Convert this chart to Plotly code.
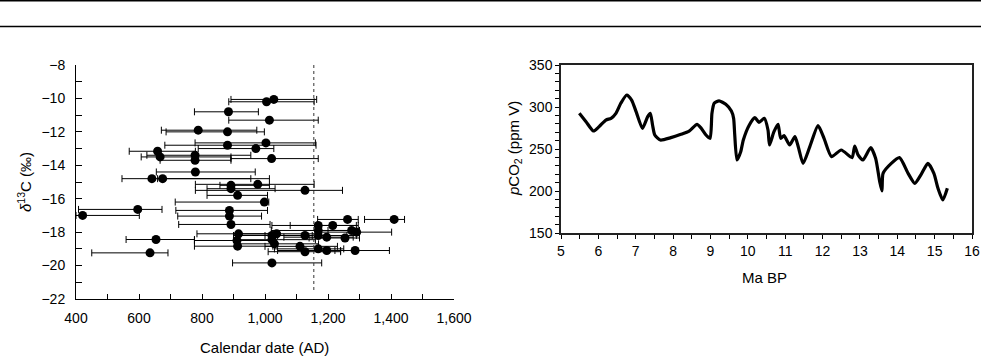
import plotly.graph_objects as go

# ---------------- Left panel: d13C vs calendar date ----------------
date_ad = [1028, 1005, 884, 1014, 788, 881, 881, 1003, 971, 659, 667, 778, 778, 1021,
           779, 641, 675, 892, 977, 892, 1127, 913, 998, 596, 421, 887, 887, 892,
           916, 654, 911, 913, 635, 1022,
           1262, 1410, 1169, 1215, 1169, 1275, 1291, 1037, 1022, 1127, 1169, 1196,
           1254, 1022, 1111, 1127, 1169, 1196, 1286, 1030]
d13c = [-10.06, -10.2, -10.8, -11.3, -11.9, -12.0, -12.8, -12.66, -13.0, -13.16, -13.5, -13.4, -13.7, -13.6,
        -14.4, -14.8, -14.8, -15.2, -15.14, -15.4, -15.5, -15.8, -16.2, -16.64, -17.0, -16.7, -17.04, -17.54,
        -18.1, -18.44, -18.5, -18.84, -19.24, -19.84,
        -17.24, -17.24, -17.6, -17.6, -17.9, -17.9, -18.0, -18.1, -18.2, -18.2, -18.2, -18.3,
        -18.35, -18.45, -18.85, -19.17, -19.0, -19.1, -19.1, -18.7]
date_low = [892, 885, 776, 885, 671, 686, 682, 778, 788, 569, 607, 625, 667, 892,
            655, 546, 659, 857, 779, 816, 779, 816, 715, 408, 400, 717, 723, 726,
            784, 559, 776, 776, 450, 897,
            1167, 1316, 1022, 1080, 1020, 1200, 1170, 920, 900, 1000, 1040, 1060,
            1140, 900, 1000, 1010, 1030, 1040, 1222, 905]
date_high = [1164, 1156, 979, 1169, 974, 998, 1162, 1160, 1028, 779, 892, 955, 892, 1169,
             969, 955, 1014, 1014, 1156, 1032, 1246, 1008, 1012, 673, 601, 1008, 989, 1016,
             1022, 776, 1020, 1025, 692, 1180,
             1296, 1443, 1296, 1290, 1290, 1300, 1402, 1170, 1150, 1260, 1290, 1280,
             1300, 1160, 1230, 1240, 1250, 1240, 1395, 1170]
ref_date = 1155
ref_top, ref_bottom = -8.0, -21.5

# ---------------- Right panel: pCO2 vs Ma BP ----------------
ma_bp = [5.49, 5.67, 5.87, 6.02, 6.20, 6.34, 6.47, 6.60, 6.76, 6.89, 7.01, 7.18, 7.32, 7.39,
         7.45, 7.51, 7.66, 7.94, 8.21, 8.43, 8.64, 8.74, 8.88, 8.99, 9.04, 9.10, 9.23, 9.41,
         9.56, 9.62, 9.65, 9.71, 9.81, 9.88, 10.04, 10.19, 10.30, 10.44, 10.54, 10.58,
         10.70, 10.81, 10.88, 10.97, 11.12, 11.26, 11.35, 11.48, 11.66, 11.88, 12.04,
         12.24, 12.50, 12.79, 12.86, 12.95, 13.08, 13.29, 13.42, 13.53, 13.59, 13.62,
         13.84, 14.06, 14.29, 14.47, 14.64, 14.82, 14.98, 15.09, 15.22, 15.34]
pco2 = [292.5, 282.5, 271.4, 276.6, 284.5, 286.5, 292.5, 304.4, 314.3, 308.3, 294.5, 274.6, 288.5, 292.5,
        278.6, 266.7, 260.7, 263.5, 267.5, 271.4, 279.4, 275.4, 266.7, 262.7, 292.5, 304.4, 307.2, 303.2,
        295.2, 286.5, 266.7, 236.9, 246.8, 260.7, 278.6, 287.3, 281.8, 286.5, 272.6, 254.8,
        270.6, 279.4, 262.7, 265.9, 254.8, 264.7, 252.8, 232.9, 252.8, 277.8, 262.7,
        240.9, 248.8, 239.7, 253.6, 242.9, 236.9, 251.6, 238.9, 211.1, 200.0, 221.0,
        232.9, 239.7, 221.0, 209.1, 219.8, 232.9, 221.0, 203.2, 189.3, 203.2]

FONT = "Liberation Sans, Arial, Helvetica, sans-serif"
W, H = 981, 357

fig = go.Figure()

fig.add_trace(go.Scatter(
    x=date_ad, y=d13c, mode="markers",
    marker=dict(size=9, color="black"),
    error_x=dict(type="data", symmetric=False,
                 array=[h - x for h, x in zip(date_high, date_ad)],
                 arrayminus=[x - l for l, x in zip(date_low, date_ad)],
                 color="black", thickness=1, width=3.5),
    xaxis="x", yaxis="y", showlegend=False, hoverinfo="skip"))

fig.add_trace(go.Scatter(
    x=[ref_date, ref_date], y=[ref_top, ref_bottom], mode="lines",
    line=dict(color="#333", width=1, dash="dot"),
    xaxis="x", yaxis="y", showlegend=False, hoverinfo="skip"))

fig.add_trace(go.Scatter(
    x=ma_bp, y=pco2, mode="lines",
    line=dict(color="black", width=3.2, shape="spline", smoothing=0.6),
    xaxis="x2", yaxis="y2", showlegend=False, hoverinfo="skip"))

def px_x(p):
    return p / W

def px_y(p):
    return 1 - p / H

tickfont = dict(family=FONT, size=14, color="black")
titlefont = dict(family=FONT, size=15, color="black")

fig.update_layout(
    width=W, height=H,
    margin=dict(l=0, r=0, t=0, b=0),
    paper_bgcolor="white", plot_bgcolor="white",
    font=dict(family=FONT, size=14, color="black"),
    xaxis=dict(domain=[px_x(76), px_x(454)], range=[400, 1600], anchor="y",
               showgrid=False, zeroline=False, showline=True, linecolor="black", linewidth=1,
               ticks="inside", ticklen=5, tickcolor="black", dtick=200, tick0=400,
               tickformat=",d", tickfont=tickfont, ticklabelstandoff=6,
               minor=dict(dtick=100, ticks="inside", ticklen=5, tickcolor="black"),
               automargin=False),
    yaxis=dict(domain=[px_y(299), px_y(65)], range=[-22, -8], anchor="x",
               showgrid=False, zeroline=False, showline=True, linecolor="black", linewidth=1,
               ticks="inside", ticklen=6, tickcolor="black", dtick=2, tick0=-8,
               tickfont=tickfont, ticklabelstandoff=7,
               minor=dict(dtick=1, ticks="inside", ticklen=6, tickcolor="black"),
               automargin=False),
    xaxis2=dict(domain=[px_x(561), px_x(972)], range=[5, 16], anchor="y2",
                showgrid=False, zeroline=False, showline=True, mirror=True,
                linecolor="#222", linewidth=1.5,
                ticks="outside", ticklen=4, tickcolor="black", dtick=1, tick0=5,
                tickfont=tickfont, ticklabelstandoff=0,
                minor=dict(dtick=0.5, ticks="outside", ticklen=4, tickcolor="black"),
                automargin=False),
    yaxis2=dict(domain=[px_y(233), px_y(65)], range=[150, 350], anchor="x2",
                showgrid=False, zeroline=False, showline=True, mirror=True,
                linecolor="#222", linewidth=1.5,
                ticks="outside", ticklen=4, tickcolor="black", dtick=50, tick0=150,
                tickfont=tickfont, ticklabelstandoff=0,
                minor=dict(dtick=10, ticks="outside", ticklen=4, tickcolor="black"),
                automargin=False),
    shapes=[
        dict(type="line", xref="paper", yref="paper", x0=-0.01, x1=1.01,
             y0=px_y(0.8), y1=px_y(0.8), line=dict(color="black", width=1.5)),
        dict(type="line", xref="paper", yref="paper", x0=-0.01, x1=1.01,
             y0=px_y(26.5), y1=px_y(26.5), line=dict(color="black", width=1.5)),
    ],
    annotations=[
        dict(text="Calendar date (AD)", xref="paper", yref="paper",
             x=px_x(264), y=px_y(347), showarrow=False, xanchor="center", yanchor="middle",
             font=titlefont),
        dict(text="<i>δ</i><sup>13</sup>C (‰)", xref="paper", yref="paper",
             x=px_x(24), y=px_y(182), showarrow=False, textangle=-90,
             xanchor="center", yanchor="middle", font=titlefont),
        dict(text="Ma BP", xref="paper", yref="paper",
             x=px_x(764), y=px_y(277), showarrow=False, xanchor="center", yanchor="middle",
             font=titlefont),
        dict(text="<i>p</i>CO<sub>2</sub> (ppm V)", xref="paper", yref="paper",
             x=px_x(514), y=px_y(149), showarrow=False, textangle=-90,
             xanchor="center", yanchor="middle", font=titlefont),
    ],
)

fig.write_html("out.html",
               config={"displayModeBar": False},
               post_script="document.body.style.margin='0';document.body.style.overflow='hidden';")
